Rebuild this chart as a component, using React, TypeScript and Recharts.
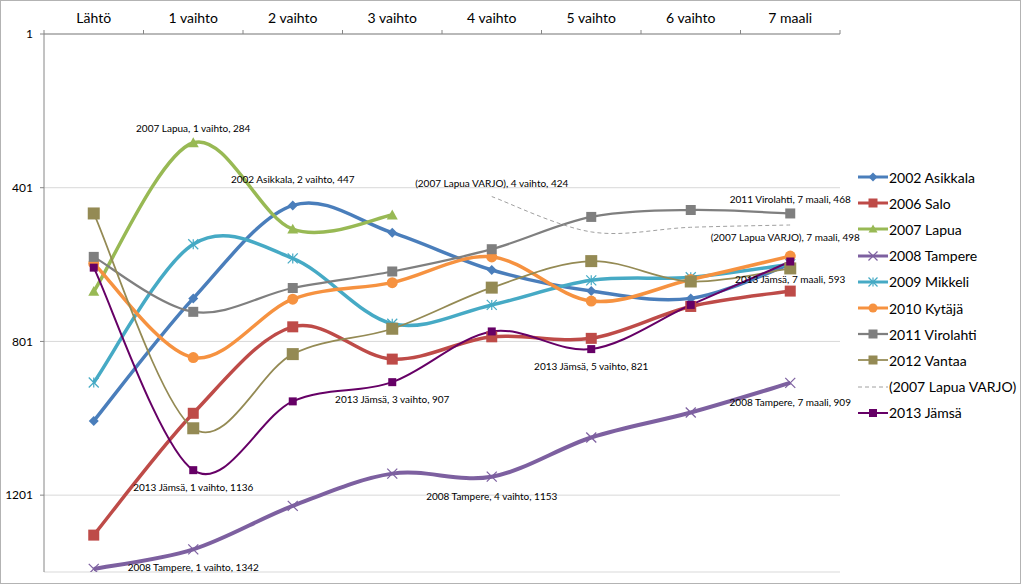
import React from 'react';
import {
  LineChart,
  Line,
  XAxis,
  YAxis,
  CartesianGrid,
  Legend,
  LabelList,
} from 'recharts';

const categories = ['Lähtö', '1 vaihto', '2 vaihto', '3 vaihto', '4 vaihto', '5 vaihto', '6 vaihto', '7 maali'];
const yTicks = [1, 401, 801, 1201];

const asikkala = [1008, 689, 447, 518, 615, 670, 689, 600];
const salo = [1305, 988, 763, 847, 789, 793, 710, 670];
const lapua = [671, 284, 509, 472, null, null, null, null];
const tampere = [1393, 1342, 1229, 1145, 1153, 1051, 986, 909];
const mikkeli = [908, 548, 585, 755, 706, 642, 634, 600];
const kytaja = [598, 843, 691, 648, 581, 696, 640, 579];
const virolahti = [581, 724, 662, 619, 561, 477, 459, 468];
const vantaa = [468, 1027, 834, 768, 661, 592, 645, 611];
const varjo = [null, null, null, null, 424, 516, 504, 498];
const jamsa = [609, 1136, 957, 907, 775, 821, 706, 593];

const FONT = 'Lato, "Open Sans", sans-serif';
const W = 1020;
const H = 583;
const PLOT_LEFT = 44;
const PLOT_TOP = 34;
const LEGEND_W = 170;
const RIGHT = 10;
const BAND = (W - RIGHT - LEGEND_W - PLOT_LEFT) / categories.length;

type Shape = 'diamond' | 'square' | 'triangle' | 'x' | 'star' | 'circle' | null;

interface SeriesDef {
  key: string;
  name: string;
  values: (number | null)[];
  color: string;
  width: number;
  shape: Shape;
  size: number;
  dash?: string;
}

const SERIES: SeriesDef[] = [
  { key: 'asikkala', name: '2002 Asikkala', values: asikkala, color: '#4A7EBB', width: 3.5, shape: 'diamond', size: 10 },
  { key: 'salo', name: '2006 Salo', values: salo, color: '#BE4B48', width: 3.5, shape: 'square', size: 11 },
  { key: 'lapua', name: '2007 Lapua', values: lapua, color: '#98B954', width: 3.5, shape: 'triangle', size: 11 },
  { key: 'tampere', name: '2008 Tampere', values: tampere, color: '#7D60A0', width: 4, shape: 'x', size: 10 },
  { key: 'mikkeli', name: '2009 Mikkeli', values: mikkeli, color: '#46AAC5', width: 3.5, shape: 'star', size: 10 },
  { key: 'kytaja', name: '2010 Kytäjä', values: kytaja, color: '#F69240', width: 3.5, shape: 'circle', size: 11 },
  { key: 'virolahti', name: '2011 Virolahti', values: virolahti, color: '#7F7F7F', width: 2.25, shape: 'square', size: 10 },
  { key: 'vantaa', name: '2012 Vantaa', values: vantaa, color: '#948A54', width: 1.75, shape: 'square', size: 12 },
  { key: 'varjo', name: '(2007 Lapua VARJO)', values: varjo, color: '#A0A0A0', width: 1, shape: null, size: 0, dash: '4 3' },
  { key: 'jamsa', name: '2013 Jämsä', values: jamsa, color: '#660066', width: 2, shape: 'square', size: 8 },
];

// which points carry an Excel-style data label, and where the text sits relative to the point
const LABELS = [
  { key: 'lapua', index: 1, dx: 0, dy: -15 },
  { key: 'asikkala', index: 2, dx: 0, dy: -26 },
  { key: 'varjo', index: 4, dx: 0, dy: -14 },
  { key: 'virolahti', index: 7, dx: 0, dy: -14 },
  { key: 'varjo', index: 7, dx: -5, dy: 12 },
  { key: 'jamsa', index: 7, dx: 0, dy: 18 },
  { key: 'jamsa', index: 5, dx: 0, dy: 17 },
  { key: 'jamsa', index: 3, dx: 0, dy: 17 },
  { key: 'jamsa', index: 1, dx: 0, dy: 17 },
  { key: 'tampere', index: 1, dx: 0, dy: 18 },
  { key: 'tampere', index: 4, dx: 0, dy: 19 },
  { key: 'tampere', index: 7, dx: 0, dy: 19 },
];

const data = categories.map((cat, i) => {
  const row: Record<string, string | number | null> = { cat };
  SERIES.forEach(s => {
    row[s.key] = s.values[i];
  });
  return row;
});

// Excel-like smoothed line (Catmull-Rom as cubic beziers)
function excelCurve(context: any) {
  let pts: number[][] = [];
  return {
    areaStart() {},
    areaEnd() {},
    lineStart() {
      pts = [];
    },
    point(x: number, y: number) {
      pts.push([+x, +y]);
    },
    lineEnd() {
      if (!pts.length) return;
      context.moveTo(pts[0][0], pts[0][1]);
      if (pts.length === 1) {
        context.lineTo(pts[0][0], pts[0][1]);
        return;
      }
      for (let i = 1; i < pts.length; i++) {
        const p0 = pts[i - 2] || pts[i - 1];
        const p1 = pts[i - 1];
        const p2 = pts[i];
        const p3 = pts[i + 1] || pts[i];
        context.bezierCurveTo(
          p1[0] + (p2[0] - p0[0]) / 6,
          p1[1] + (p2[1] - p0[1]) / 6,
          p2[0] - (p3[0] - p1[0]) / 6,
          p2[1] - (p3[1] - p1[1]) / 6,
          p2[0],
          p2[1],
        );
      }
    },
  };
}

function Marker({ shape, cx, cy, size, color }: { shape: Shape; cx: number; cy: number; size: number; color: string }) {
  const h = size / 2;
  switch (shape) {
    case 'diamond':
      return <polygon points={`${cx},${cy - h} ${cx + h},${cy} ${cx},${cy + h} ${cx - h},${cy}`} fill={color} />;
    case 'square':
      return <rect x={cx - h} y={cy - h} width={size} height={size} fill={color} />;
    case 'triangle':
      return <polygon points={`${cx},${cy - h} ${cx + h},${cy + h * 0.8} ${cx - h},${cy + h * 0.8}`} fill={color} />;
    case 'x':
      return (
        <g stroke={color} strokeWidth={1.2}>
          <line x1={cx - h} y1={cy - h} x2={cx + h} y2={cy + h} />
          <line x1={cx - h} y1={cy + h} x2={cx + h} y2={cy - h} />
        </g>
      );
    case 'star':
      return (
        <g stroke={color} strokeWidth={1.2}>
          <line x1={cx - h} y1={cy - h} x2={cx + h} y2={cy + h} />
          <line x1={cx - h} y1={cy + h} x2={cx + h} y2={cy - h} />
          <line x1={cx} y1={cy - h} x2={cx} y2={cy + h} />
        </g>
      );
    case 'circle':
      return <circle cx={cx} cy={cy} r={h} fill={color} />;
    default:
      return null;
  }
}

function makeDot(s: SeriesDef) {
  return (p: any) => {
    const k = `${s.key}-dot-${p.index}`;
    if (!s.shape || p.cx == null || p.cy == null || p.value == null) return <g key={k} />;
    return (
      <g key={k}>
        <Marker shape={s.shape} cx={p.cx} cy={p.cy} size={s.size} color={s.color} />
      </g>
    );
  };
}

function makeLabel(s: SeriesDef) {
  return (p: any) => {
    const cfg = LABELS.find(l => l.key === s.key && l.index === p.index);
    if (!cfg || p.value == null) return null;
    return (
      <text
        x={p.x + cfg.dx}
        y={p.y + cfg.dy}
        textAnchor="middle"
        dominantBaseline="central"
        fontSize={10}
        fontFamily={FONT}
        fill="#000"
      >
        {`${s.name}, ${categories[p.index]}, ${p.value}`}
      </text>
    );
  };
}

function CategoryTick(props: any) {
  const { x, payload, index } = props;
  const half = BAND / 2;
  return (
    <g>
      <text x={x} y={PLOT_TOP - 11} textAnchor="middle" fontSize={14} fontFamily={FONT} fill="#000">
        {payload.value}
      </text>
      <line x1={x - half} x2={x - half} y1={PLOT_TOP} y2={PLOT_TOP - 4} stroke="#868686" />
      {index === categories.length - 1 && (
        <line x1={x + half} x2={x + half} y1={PLOT_TOP} y2={PLOT_TOP - 4} stroke="#868686" />
      )}
    </g>
  );
}

function LegendContent() {
  return (
    <div style={{ paddingLeft: 18, fontFamily: FONT, fontSize: 14, color: '#000' }}>
      {SERIES.map(s => (
        <div key={s.key} style={{ display: 'flex', alignItems: 'center', height: 26.2 }}>
          <svg width={30} height={14} style={{ flexShrink: 0 }}>
            <line x1={0} x2={30} y1={7} y2={7} stroke={s.color} strokeWidth={Math.min(s.width, 3)} strokeDasharray={s.dash} />
            {s.shape && <Marker shape={s.shape} cx={15} cy={7} size={Math.min(s.size, 9)} color={s.color} />}
          </svg>
          <span style={{ marginLeft: 1, whiteSpace: 'nowrap' }}>{s.name}</span>
        </div>
      ))}
    </div>
  );
}

export default function App() {
  return (
    <div style={{ position: 'absolute', left: 0, top: 0, width: 1024, height: 587, background: '#fff' }}>
      <div
        style={{
          position: 'absolute',
          left: 0,
          top: 0,
          width: W + 1,
          height: H + 1,
          border: '1px solid #b3b3b3',
          boxSizing: 'border-box',
        }}
      />
      <div style={{ position: 'absolute', left: 0, top: 0 }}>
        <LineChart width={W} height={H} data={data} margin={{ top: 0, right: RIGHT, bottom: 11, left: 0 }}>
          <CartesianGrid vertical={false} stroke="#d9d9d9" />
          <XAxis
            dataKey="cat"
            orientation="top"
            height={PLOT_TOP}
            interval={0}
            padding={{ left: BAND / 2, right: BAND / 2 }}
            tick={<CategoryTick />}
            tickLine={false}
            axisLine={{ stroke: '#868686' }}
          />
          <YAxis
            width={PLOT_LEFT}
            reversed
            domain={[1, 1401]}
            ticks={yTicks}
            interval={0}
            allowDataOverflow
            tickSize={4}
            tickMargin={7}
            tick={{ fontSize: 12, fontFamily: FONT, fill: '#000' }}
            tickLine={{ stroke: '#868686' }}
            axisLine={{ stroke: '#868686' }}
          />
          <Legend
            layout="vertical"
            align="right"
            verticalAlign="top"
            content={<LegendContent />}
            wrapperStyle={{ top: 164, width: LEGEND_W }}
          />
          {SERIES.map(s => (
            <Line
              key={s.key}
              dataKey={s.key}
              name={s.name}
              type={excelCurve as any}
              stroke={s.color}
              strokeWidth={s.width}
              strokeDasharray={s.dash}
              dot={makeDot(s)}
              activeDot={false}
              isAnimationActive={false}
            >
              <LabelList dataKey={s.key} content={makeLabel(s)} />
            </Line>
          ))}
        </LineChart>
      </div>
    </div>
  );
}
